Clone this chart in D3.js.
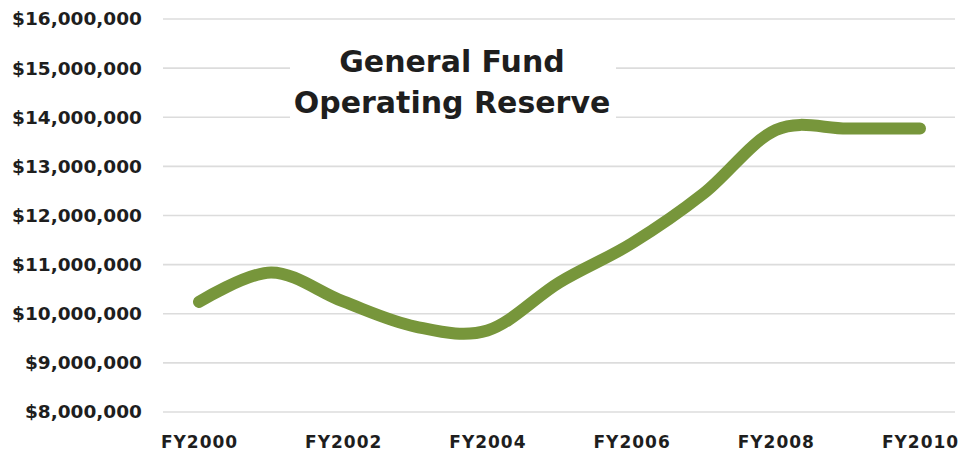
<!DOCTYPE html>
<html>
<head>
<meta charset="utf-8">
<script src="https://cdn.jsdelivr.net/npm/d3@7"></script>
<style>
  body { margin: 0; background: #fff; }
  text { font-family: "DejaVu Sans", sans-serif; font-weight: bold; fill: #1e1e1e; }
</style>
</head>
<body>
<svg id="chart" width="959" height="458"></svg>
<script>
const years = ['FY2000', 'FY2001', 'FY2002', 'FY2003', 'FY2004', 'FY2005',
  'FY2006', 'FY2007', 'FY2008', 'FY2009', 'FY2010']
const reserve = [10240000, 10840000, 10250000, 9740000, 9660000, 10640000,
  11430000, 12450000, 13740000, 13770000, 13770000]
const yTicks = [8000000, 9000000, 10000000, 11000000, 12000000, 13000000,
  14000000, 15000000, 16000000]
const xTickLabels = ['FY2000', 'FY2002', 'FY2004', 'FY2006', 'FY2008', 'FY2010']
const titleLines = ['General Fund', 'Operating Reserve']

const svg = d3.select('#chart')

const x = d3.scalePoint()
  .domain(years)
  .range([199, 920])

const y = d3.scaleLinear()
  .domain([8000000, 16000000])
  .range([412, 19])

// gridlines
svg.append('g')
  .selectAll('line')
  .data(yTicks)
  .enter()
  .append('line')
  .attr('x1', 163)
  .attr('x2', 955)
  .attr('y1', d => y(d))
  .attr('y2', d => y(d))
  .attr('stroke', '#dcdcdc')
  .attr('stroke-width', 1.6)

// y axis labels
const yAxis = d3.axisLeft(y)
  .tickValues(yTicks)
  .tickSize(0)
  .tickPadding(0)
  .tickFormat(d => '$' + d3.format(',')(d))

svg.append('g')
  .attr('transform', 'translate(142,0)')
  .call(yAxis)
  .call(g => g.select('.domain').remove())
  .selectAll('text')
  .attr('font-size', 18.5)
  .attr('font-family', null)
  .attr('fill', null)

// x axis labels
const xAxis = d3.axisBottom(x)
  .tickValues(xTickLabels)
  .tickSize(0)
  .tickPadding(0)

svg.append('g')
  .attr('transform', 'translate(0,436)')
  .call(xAxis)
  .call(g => g.select('.domain').remove())
  .selectAll('text')
  .attr('font-size', 17)
  .attr('letter-spacing', 1)
  .attr('font-family', null)
  .attr('fill', null)

// title sits on a white box over the gridlines
svg.append('rect')
  .attr('x', 290)
  .attr('y', 36)
  .attr('width', 326)
  .attr('height', 92)
  .attr('fill', '#fff')

svg.append('g')
  .selectAll('text')
  .data(titleLines)
  .enter()
  .append('text')
  .attr('x', 452)
  .attr('y', (d, i) => 72 + i * 41)
  .attr('text-anchor', 'middle')
  .attr('font-size', 30)
  .text(d => d)

const line = d3.line()
  .x((d, i) => x(years[i]))
  .y(d => y(d))
  .curve(d3.curveCardinal.tension(0))

svg.append('path')
  .datum(reserve)
  .attr('d', line)
  .attr('fill', 'none')
  .attr('stroke', '#77963b')
  .attr('stroke-width', 12)
  .attr('stroke-linecap', 'round')
  .attr('stroke-linejoin', 'round')
</script>
</body>
</html>
